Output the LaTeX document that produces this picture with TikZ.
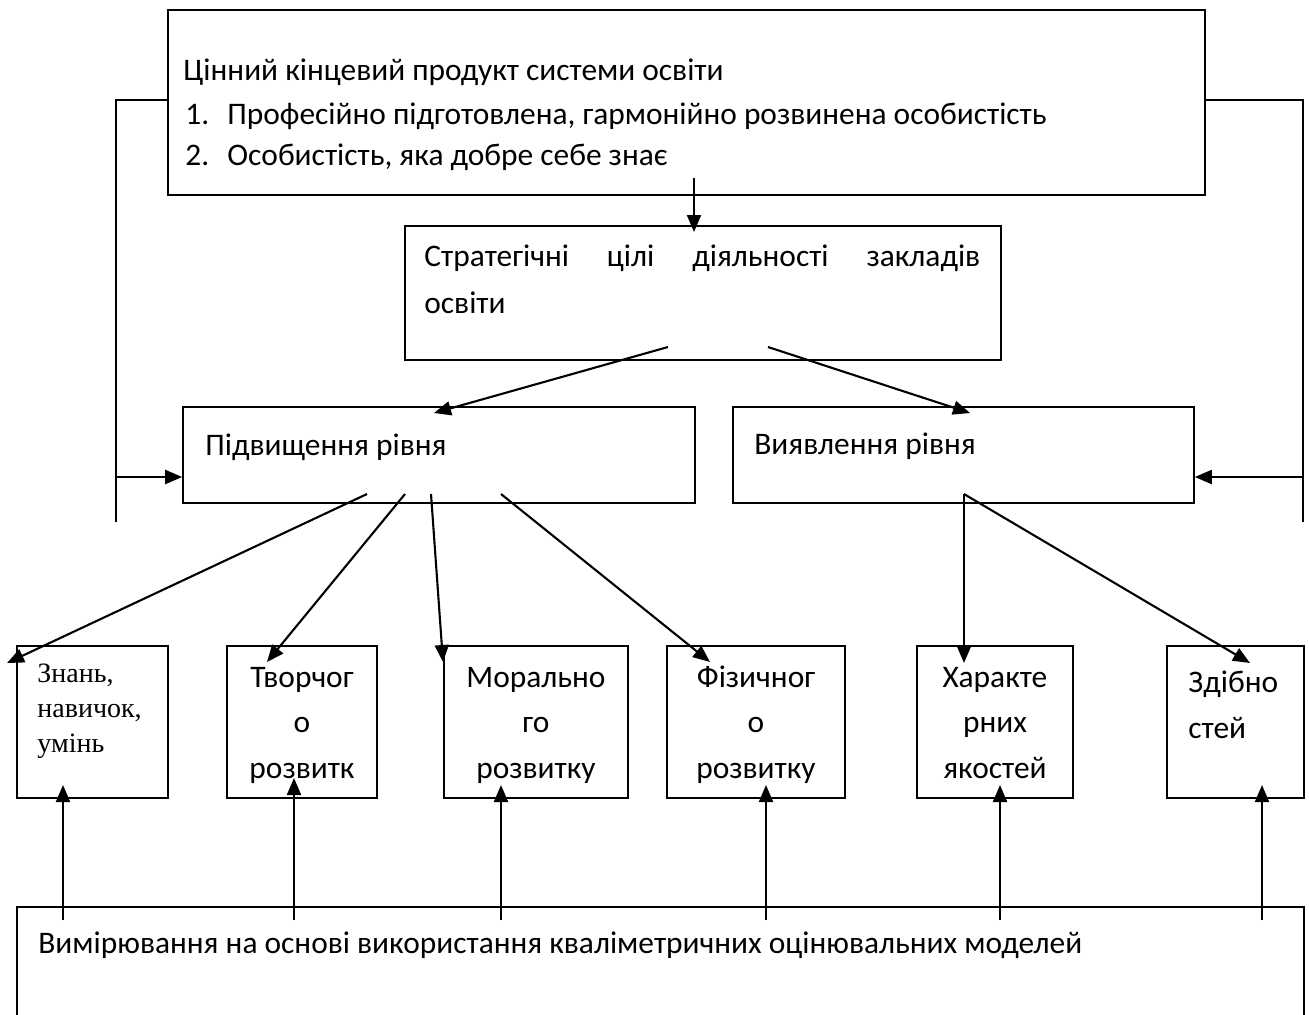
\documentclass[tikz,border=0pt]{standalone}
\usepackage{fontspec}
\setmainfont{Carlito}
\newfontfamily\timesfont{Liberation Serif}
\usetikzlibrary{arrows.meta,fit}

\tikzset{
  box/.style={draw, line width=0.8pt, inner sep=0pt},
  arr/.style={-{Triangle[length=8.5pt,width=7pt]}, line width=1.05pt},
  brace/.style={line width=0.85pt},
  lbl/.style={inner sep=0pt, font=\fontsize{15.7}{23.5}\selectfont},
  cell/.style={inner sep=0pt, align=center, font=\fontsize{15.7}{22.75}\selectfont},
}

\begin{document}
\begin{tikzpicture}[x=0.5pt,y=-0.5pt]
\useasboundingbox (0,0) rectangle (1309,1014);

% boxes
\node[box, fit={(168,10) (1205,195)}] (prod) {};
\node[box, fit={(405,226) (1001,360)}] (strat) {};
\node[box, fit={(183,407) (695,503)}] (raise) {};
\node[box, fit={(733,407) (1194,503)}] (detect) {};
\node[box, fit={(17,646) (168,798)}] (know) {};
\node[box, fit={(227,646) (377,798)}] (creat) {};
\node[box, fit={(444,646) (628,798)}] (moral) {};
\node[box, fit={(667,646) (845,798)}] (phys) {};
\node[box, fit={(917,646) (1073,798)}] (char) {};
\node[box, fit={(1167,646) (1304,798)}] (abil) {};
\node[box, fit={(17,907) (1304,1030)}] (meas) {};

% texts (multi-line nodes sit on their last baseline)
\node[lbl, anchor=base west] (prodtitle) at (183,80) {Цінний кінцевий продукт системи освіти};
\node[lbl, anchor=base west] (item1) at (185,124) {\makebox[21pt][l]{1.}Професійно підготовлена, гармонійно розвинена особистість};
\node[lbl, anchor=base west] (item2) at (185,165) {\makebox[21pt][l]{2.}Особистість, яка добре себе знає};
\node[lbl, anchor=base west, align=left] (strattext) at (424,313)
  {\makebox[278pt][s]{Стратегічні цілі діяльності закладів}\\освіти};
\node[lbl, anchor=base west] (raisetext) at (205,455) {Підвищення рівня};
\node[lbl, anchor=base west] (detecttext) at (754,454) {Виявлення рівня};
\node[inner sep=0pt, align=left, anchor=base west, font=\timesfont\fontsize{14}{17.5}\selectfont]
  (knowtext) at (37,752) {Знань,\\навичок,\\умінь};
\node[cell, anchor=base] (creattext) at (302,778) {Творчог\\о\\розвитк};
\node[cell, anchor=base] (moraltext) at (536,778) {Морально\\го\\розвитку};
\node[cell, anchor=base] (phystext) at (756,778) {Фізичног\\о\\розвитку};
\node[cell, anchor=base] (chartext) at (995,778) {Характе\\рних\\якостей};
\node[cell, align=left, anchor=base west] (abiltext) at (1188,738) {Здібно\\стей};
\node[lbl, anchor=base west] (meastext) at (38,953)
  {Вимірювання на основі використання кваліметричних оцінювальних моделей};

% connector ends
\coordinate (prodout) at (694,178);
\coordinate (stratin) at (694,232);
\coordinate (stratl) at (668,347);
\coordinate (stratr) at (768,347);
\coordinate (raisein) at (434,413);
\coordinate (detectin) at (970,413);
\coordinate (r1) at (367,494);
\coordinate (r2) at (405,494);
\coordinate (r3) at (431,494);
\coordinate (r4) at (501,494);
\coordinate (d1) at (964,494);
\coordinate (knowin) at (7,663);
\coordinate (creatin) at (267,662);
\coordinate (moralin) at (443,662);
\coordinate (physin) at (710,662);
\coordinate (charin) at (964,663);
\coordinate (abilin) at (1250,663);
\coordinate (lbtop) at (116,100);
\coordinate (lbarr) at (116,477);
\coordinate (lbbot) at (116,522);
\coordinate (rbtop) at (1303,100);
\coordinate (rbarr) at (1303,477);
\coordinate (rbbot) at (1303,522);

% side brackets
\draw[brace] (lbtop -| prod.west) -- (lbtop) -- (lbbot);
\draw[brace] (rbtop -| prod.east) -- (rbtop) -- (rbbot);

\begin{scope}[arr]
  \draw (prodout) to (stratin);
  \draw (stratl) to (raisein);
  \draw (stratr) to (detectin);
  \draw (lbarr) to (lbarr -| raise.west);
  \draw (rbarr) to (rbarr -| detect.east);
  \draw (r1) to (knowin);
  \draw (r2) to (creatin);
  \draw (r3) to (moralin);
  \draw (r4) to (physin);
  \draw (d1) to (charin);
  \draw (d1) to (abilin);
  \foreach \x/\t in {63/785, 294/778, 501/785, 766/785, 1000/785, 1262/785}
    \draw (\x,920) to (\x,\t);
\end{scope}
\end{tikzpicture}
\end{document}
